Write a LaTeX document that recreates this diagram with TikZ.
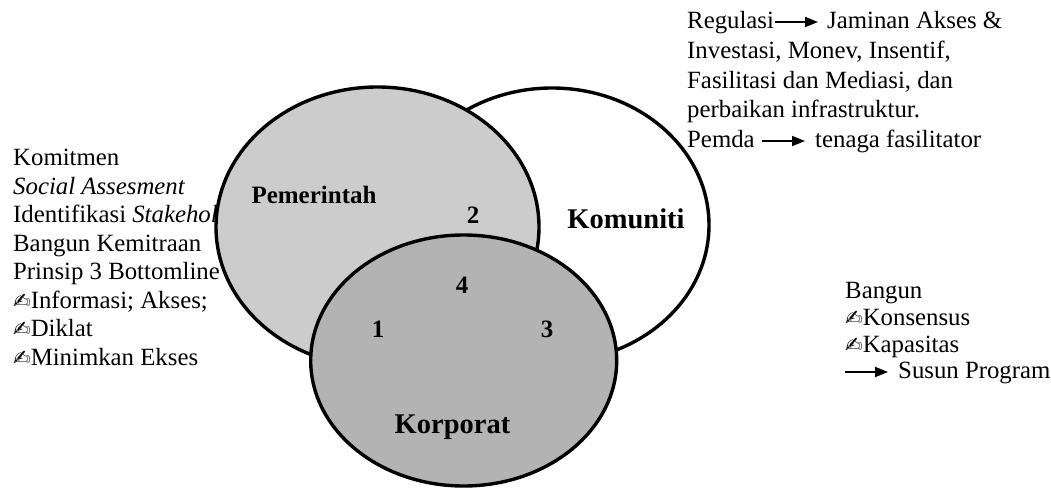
\documentclass[tikz,border=0pt]{standalone}
\usepackage{fontspec}
\setmainfont{Liberation Serif}
\newfontfamily\dejavu{DejaVu Sans}
\usetikzlibrary{arrows.meta}
\newcommand\pen{{\dejavu\fontsize{21}{22}\selectfont ✍}}
\begin{document}
\begin{tikzpicture}[x=1pt,y=-1pt,
  txt/.style={anchor=base west,inner sep=0pt,font=\fontsize{24.8}{28.5}\selectfont},
  lbl/.style={anchor=base,inner sep=0pt,font=\fontsize{25}{30}\selectfont\bfseries},
  biglbl/.style={anchor=base,inner sep=0pt,font=\fontsize{28.5}{34}\selectfont\bfseries},
  ring/.style={line width=3.4pt},
  arr/.style={line width=1.8pt,-{Triangle[length=13pt,width=10pt]}}]
\definecolor{gpem}{RGB}{204,204,204}
\definecolor{gkor}{RGB}{179,179,179}
\useasboundingbox (0,0) rectangle (1051,489);
% left block (under the ellipses)
\node[txt] (l1) at (13,166) {Komitmen};
\node[txt] (l2) at (13,194.4) {\textit{Social Assesment}};
\node[txt] (l3) at (13,222.9) {Identifikasi \textit{Stakehol}};
\node[txt] (l4) at (13,251.3) {Bangun Kemitraan};
\node[txt] (l5) at (13,279.7) {Prinsip 3 Bottomline};
\node[txt] (l6) at (13,308.1) {\pen Informasi; Akses;};
\node[txt] (l7) at (13,336.6) {\pen Diklat};
\node[txt] (l8) at (13,365) {\pen Minimkan Ekses};
% ellipses
\draw[ring,fill=white] (552,225) ellipse [x radius=157, y radius=137];
\draw[ring,fill=gpem] (377.5,227) ellipse [x radius=161.5, y radius=140];
\draw[ring,fill=gkor] (463.7,360.5) ellipse [x radius=153, y radius=125.5];
% labels
\node[lbl] (pem) at (314,203) {Pemerintah};
\node[lbl] (n2) at (473,223) {2};
\node[biglbl] (kom) at (626,228) {Komuniti};
\node[lbl] (n4) at (462,293) {4};
\node[lbl] (n1) at (378,337) {1};
\node[lbl] (n3) at (547,337) {3};
\node[biglbl] (kor) at (452.5,433) {Korporat};
% right top block
\node[txt] (r1) at (687,29) {Regulasi};
\node[txt] (r1b) at (827,29) {Jaminan Akses \&};
\node[txt] (r2) at (687,59) {Investasi, Monev, Insentif,};
\node[txt] (r3) at (687,88.5) {Fasilitasi dan Mediasi, dan};
\node[txt] (r4) at (687,118) {perbaikan infrastruktur.};
\node[txt] (r5) at (687,148) {Pemda};
\node[txt] (r5b) at (815,148) {tenaga fasilitator};
\draw[arr] ([shift={(1,-7)}]r1.base east) -- ([shift={(-9,-7)}]r1b.base west);
\draw[arr] ([shift={(7.5,-7)}]r5.base east) -- ([shift={(-10,-7)}]r5b.base west);
% right bottom block
\node[txt] (b1) at (845,298) {Bangun};
\node[txt] (b2) at (845,325) {\pen Konsensus};
\node[txt] (b3) at (845,352) {\pen Kapasitas};
\node[txt] (b4) at (898,378) {Susun Program};
\coordinate (bs) at (845,372);
\draw[arr] (bs) -- ([shift={(-10,-6)}]b4.base west);
\end{tikzpicture}
\end{document}
